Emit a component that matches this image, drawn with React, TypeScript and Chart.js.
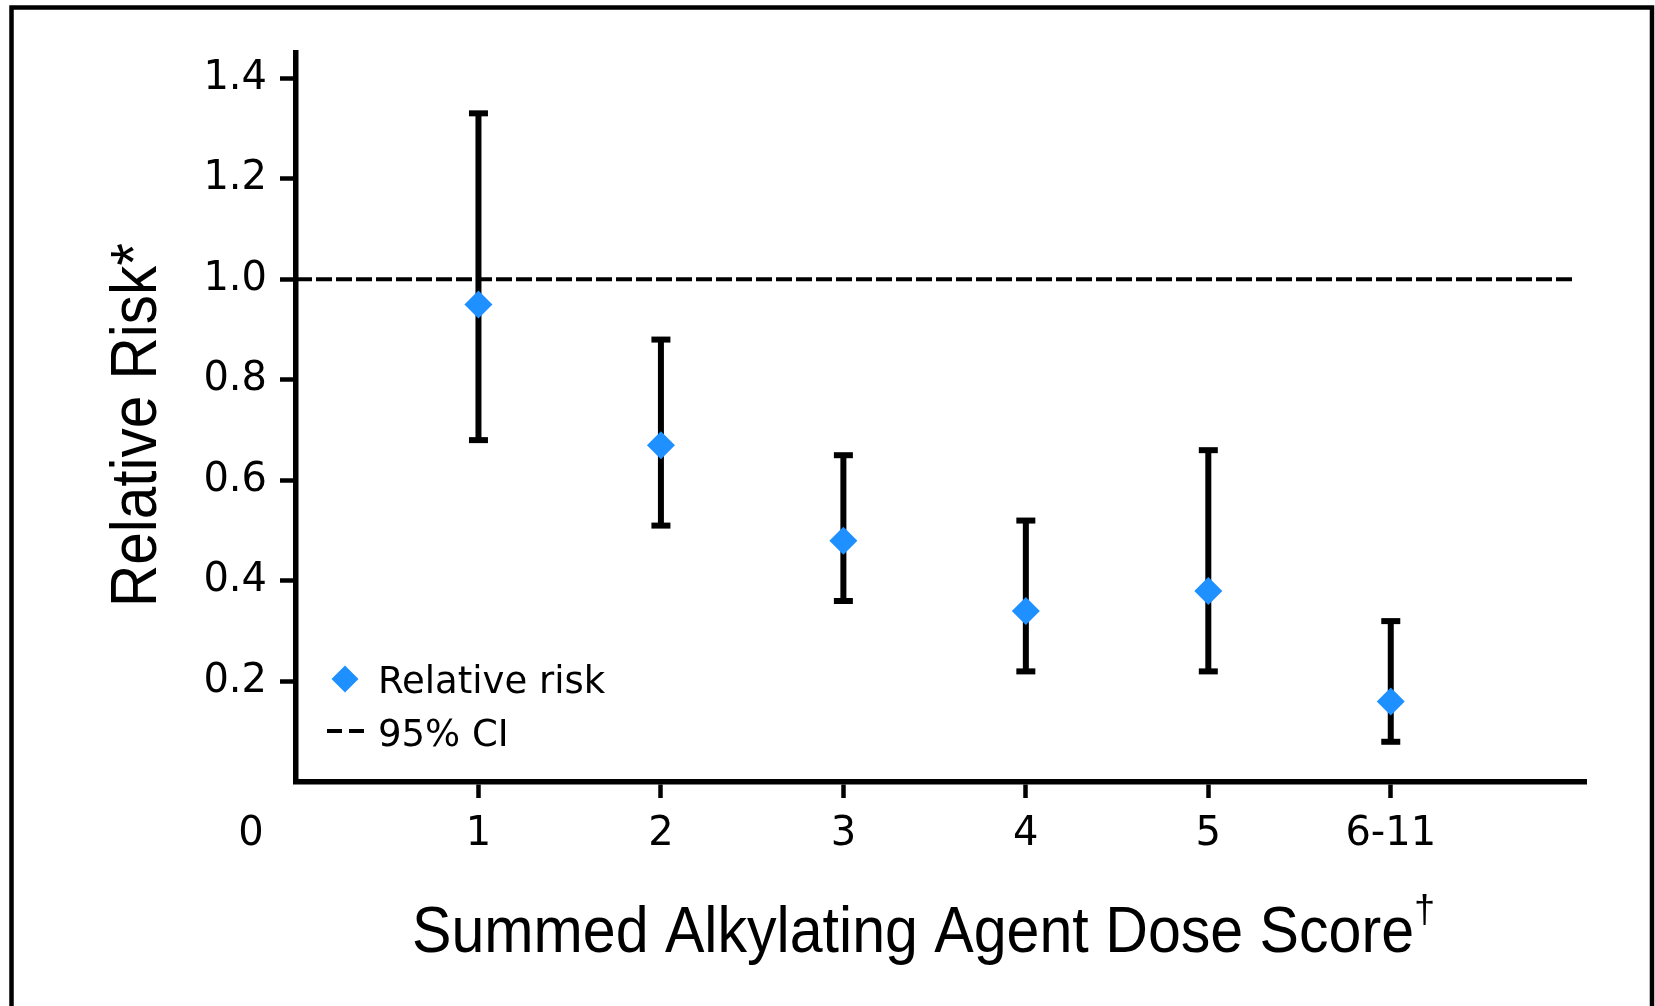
import React, { useEffect, useRef } from 'react';
import { Chart, registerables } from 'chart.js';

Chart.register(...registerables);

// ---- data ----
const doseCategories = ['1', '2', '3', '4', '5', '6-11'];
const relativeRisk = [0.95, 0.67, 0.48, 0.34, 0.38, 0.16];
const ciLower = [0.68, 0.51, 0.36, 0.22, 0.22, 0.08];
const ciUpper = [1.33, 0.88, 0.65, 0.52, 0.66, 0.32];
const yTickValues = [0.2, 0.4, 0.6, 0.8, 1.0, 1.2, 1.4];
const originLabel = '0';
const referenceRisk = 1.0;
const referenceSpan = [0, 7.0];
const xTitle = 'Summed Alkylating Agent Dose Score';
const xTitleMark = '†';
const yTitle = 'Relative Risk*';
const legendLabels = ['Relative risk', '95% CI'];

// ---- layout / style ----
const W = 1655;
const H = 1006;
const AREA = { left: 296, right: 1586, top: 53, bottom: 782 };
const Y_AXIS_W = 200;
const X_AXIS_H = 100;
const BLUE = 'rgb(30,144,255)';
const TICK_FAMILY = "'DejaVu Sans', 'Liberation Sans', sans-serif";
const TITLE_FAMILY = "'Liberation Sans', Arial, sans-serif";
const TICK_SIZE = 40;
const TICK_LEN = 16;
const TICK_PAD = 13;

function fittedText(ctx: CanvasRenderingContext2D, text: string, x: number, y: number, targetWidth: number, size: number) {
  ctx.font = `${size}px ${TITLE_FAMILY}`;
  const w = ctx.measureText(text).width;
  ctx.save();
  ctx.translate(x, y);
  ctx.scale(targetWidth / w, 1);
  ctx.textAlign = 'left';
  ctx.textBaseline = 'alphabetic';
  ctx.fillText(text, 0, 0);
  ctx.restore();
}

const decorPlugin = {
  id: 'decor',
  afterDraw(chart: any) {
    const ctx: CanvasRenderingContext2D = chart.ctx;
    const xs = chart.scales.x;
    ctx.save();
    // outer frame
    ctx.strokeStyle = '#000';
    ctx.lineWidth = 4.5;
    ctx.beginPath();
    ctx.moveTo(11.5, H + 10);
    ctx.lineTo(11.5, 7.5);
    ctx.lineTo(1652, 7.5);
    ctx.lineTo(1652, H + 10);
    ctx.stroke();

    ctx.fillStyle = '#000';
    // origin label
    ctx.font = `${TICK_SIZE}px ${TICK_FAMILY}`;
    ctx.textAlign = 'center';
    ctx.textBaseline = 'middle';
    ctx.fillText(originLabel, xs.getPixelForValue(0) - 45, xs.top + TICK_LEN + TICK_PAD + TICK_SIZE * 0.6);

    // x title
    fittedText(ctx, xTitle, 412, 952, 1002, 64);
    ctx.font = `38px ${TITLE_FAMILY}`;
    ctx.textAlign = 'left';
    ctx.textBaseline = 'alphabetic';
    ctx.fillText(xTitleMark, 1414, 922);

    // y title
    ctx.save();
    ctx.translate(156, 607);
    ctx.rotate(-Math.PI / 2);
    fittedText(ctx, yTitle, 0, 0, 364, 65);
    ctx.restore();

    // legend
    const dx = 345, dy = 679, r = 13.5;
    ctx.fillStyle = BLUE;
    ctx.beginPath();
    ctx.moveTo(dx - r, dy);
    ctx.lineTo(dx, dy - r);
    ctx.lineTo(dx + r, dy);
    ctx.lineTo(dx, dy + r);
    ctx.closePath();
    ctx.fill();

    ctx.strokeStyle = '#000';
    ctx.lineWidth = 4;
    ctx.beginPath();
    ctx.moveTo(327, 731);
    ctx.lineTo(342, 731);
    ctx.moveTo(349, 731);
    ctx.lineTo(364, 731);
    ctx.stroke();

    ctx.fillStyle = '#000';
    ctx.font = `37px ${TICK_FAMILY}`;
    ctx.textAlign = 'left';
    ctx.textBaseline = 'alphabetic';
    ctx.fillText(legendLabels[0], 378, 693);
    ctx.fillText(legendLabels[1], 378, 746);
    ctx.restore();
  },
};

export default function App() {
  const canvasRef = useRef<HTMLCanvasElement | null>(null);

  useEffect(() => {
    const canvas = canvasRef.current;
    if (!canvas) return;

    const errorBarSets = doseCategories.map((c, i) => ({
      label: `CI ${c}`,
      data: [
        { x: i + 1, y: ciLower[i] },
        { x: i + 1, y: ciUpper[i] },
      ],
      showLine: true,
      borderColor: '#000',
      borderWidth: 6,
      pointStyle: 'line',
      pointRadius: 9.5,
      pointHoverRadius: 9.5,
      pointBorderWidth: 6,
      pointBorderColor: '#000',
      pointBackgroundColor: '#000',
    }));

    const chart = new Chart(canvas, {
      type: 'scatter',
      data: {
        datasets: [
          {
            label: legendLabels[0],
            data: relativeRisk.map((v, i) => ({ x: i + 1, y: v })),
            pointStyle: 'rectRot',
            pointRadius: 14,
            pointHoverRadius: 14,
            backgroundColor: BLUE,
            borderColor: BLUE,
            pointBorderWidth: 0,
            showLine: false,
          },
          {
            label: 'Reference',
            data: referenceSpan.map((x) => ({ x, y: referenceRisk })),
            showLine: true,
            borderColor: '#000',
            borderWidth: 4,
            borderDash: [16, 4],
            pointRadius: 0,
            pointHoverRadius: 0,
          },
          ...errorBarSets,
        ] as any,
      },
      options: {
        animation: false,
        responsive: false,
        events: [],
        layout: {
          padding: {
            left: AREA.left - Y_AXIS_W,
            right: W - AREA.right,
            top: AREA.top,
            bottom: H - AREA.bottom - X_AXIS_H,
          },
        },
        plugins: {
          legend: { display: false },
          tooltip: { enabled: false },
          title: { display: false },
        },
        scales: {
          x: {
            type: 'linear',
            min: 0,
            max: 7.07,
            afterBuildTicks: (s: any) => {
              s.ticks = doseCategories.map((_, i) => ({ value: i + 1 }));
            },
            afterFit: (s: any) => {
              s.height = X_AXIS_H;
            },
            ticks: {
              callback: (_v: any, idx: number) => doseCategories[idx],
              font: { family: TICK_FAMILY, size: TICK_SIZE },
              color: '#000',
              padding: TICK_PAD,
              maxRotation: 0,
              autoSkip: false,
            },
            grid: {
              drawOnChartArea: false,
              drawTicks: true,
              tickLength: TICK_LEN,
              tickWidth: 4.5,
              tickColor: '#000',
            },
            border: { display: true, color: '#000', width: 5.5 },
          },
          y: {
            type: 'linear',
            min: 0,
            max: 1.45,
            afterBuildTicks: (s: any) => {
              s.ticks = yTickValues.map((v) => ({ value: v }));
            },
            afterFit: (s: any) => {
              s.width = Y_AXIS_W;
            },
            ticks: {
              callback: (v: any) => Number(v).toFixed(1),
              font: { family: TICK_FAMILY, size: TICK_SIZE },
              color: '#000',
              padding: TICK_PAD,
              autoSkip: false,
            },
            grid: {
              drawOnChartArea: false,
              drawTicks: true,
              tickLength: TICK_LEN,
              tickWidth: 4.5,
              tickColor: '#000',
            },
            border: { display: true, color: '#000', width: 5.5 },
          },
        },
      } as any,
      plugins: [decorPlugin],
    });

    return () => chart.destroy();
  }, []);

  return (
    <div style={{ position: 'absolute', left: 0, top: 0, width: W, height: H, background: '#fff' }}>
      <canvas ref={canvasRef} width={W} height={H} style={{ display: 'block', width: W, height: H }} />
    </div>
  );
}
